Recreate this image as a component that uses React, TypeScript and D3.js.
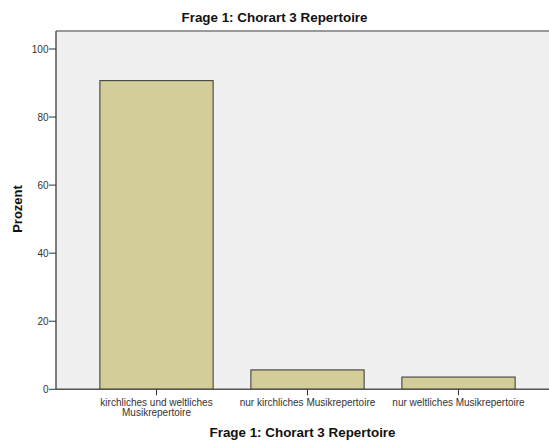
import React from "react";
import * as d3 from "d3";

const categories = ["kirchliches und weltliches Musikrepertoire", "nur kirchliches Musikrepertoire", "nur weltliches Musikrepertoire"];
const categoryLines = [["kirchliches und weltliches", "Musikrepertoire"], ["nur kirchliches Musikrepertoire"], ["nur weltliches Musikrepertoire"]];
const values = [90.7, 5.7, 3.6];
const yTicks = [0, 20, 40, 60, 80, 100];

export default function App() {
  const W = 549, H = 441;
  const left = 56, right = 549, top = 31, bottom = 389.3;
  const x = d3.scaleBand<string>().domain(categories).range([81, 534]).paddingInner(0.25).paddingOuter(0.125);
  const y = d3.scaleLinear().domain([0, 100]).range([bottom, 49]);
  const font = "Arial, 'Liberation Sans', sans-serif";
  return (
    <svg width={W} height={H} style={{ position: "absolute", left: 0, top: 0, background: "#fff" }} fontFamily={font}>
      <rect x={left} y={top} width={right - left} height={bottom - top} fill="#F0F0F0" />
      <line x1={left} x2={right} y1={top} y2={top} stroke="#999" strokeWidth={2} />
      {categories.map((c, i) => (
        <rect key={c} x={x(c)} y={y(values[i])} width={x.bandwidth()} height={bottom - y(values[i])} fill="#D3CE99" stroke="#333" strokeWidth={1} />
      ))}
      <line x1={left} x2={left} y1={top} y2={bottom} stroke="#555" strokeWidth={1.5} />
      <line x1={left} x2={right} y1={bottom} y2={bottom} stroke="#555" strokeWidth={1.5} />
      {yTicks.map((t) => (
        <g key={t}>
          <line x1={left - 7} x2={left} y1={y(t)} y2={y(t)} stroke="#333" strokeWidth={1} />
          <text x={left - 7.5} y={y(t)} dy="0.35em" textAnchor="end" fontSize={10} fill="#333">{t}</text>
        </g>
      ))}
      {categories.map((c, i) => {
        const cx = (x(c) as number) + x.bandwidth() / 2;
        return (
          <g key={c}>
            <line x1={cx} x2={cx} y1={bottom} y2={bottom + 6} stroke="#333" strokeWidth={1} />
            {categoryLines[i].map((l, j) => (
              <text key={j} x={cx} y={bottom + 17 + j * 10} textAnchor="middle" fontSize={10} fill="#333">{l}</text>
            ))}
          </g>
        );
      })}
      <text x={274.5} y={22} textAnchor="middle" fontSize={13.4} fontWeight="bold" fill="#111">Frage 1: Chorart 3 Repertoire</text>
      <text x={302.5} y={437.3} textAnchor="middle" fontSize={13.4} fontWeight="bold" fill="#111">Frage 1: Chorart 3 Repertoire</text>
      <text transform={`translate(21.5,209) rotate(-90)`} textAnchor="middle" fontSize={13} fontWeight="bold" fill="#111">Prozent</text>
    </svg>
  );
}
